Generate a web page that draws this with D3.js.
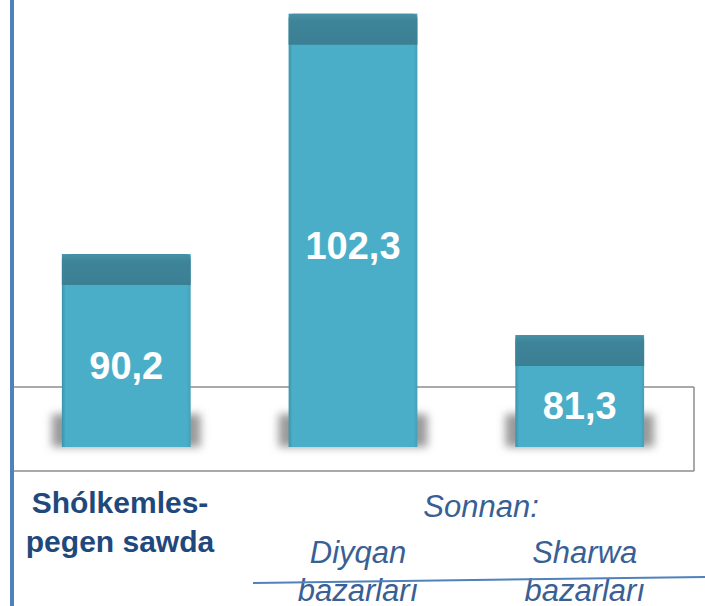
<!DOCTYPE html>
<html>
<head>
<meta charset="utf-8">
<script src="https://cdn.jsdelivr.net/npm/d3@7"></script>
<style>
  body { margin: 0; background: #fff; }
  svg { display: block; font-family: "Liberation Sans", Arial, sans-serif; }
</style>
</head>
<body>
<svg id="chart" width="705" height="606"></svg>
<script>
// chart data
const categories = ["Shólkemlespegen sawda", "Diyqan bazarları", "Sharwa bazarları"];
const values = [90.2, 102.3, 81.3];
const valueLabels = ["90,2", "102,3", "81,3"];
// value knots of the (non-uniform) vertical scale used by the original picture
const yKnots = [70, 90, 105];

const svg = d3.select("#chart");
const width = +svg.attr("width"),
  height = +svg.attr("height");

const FLOOR_LEFT = 12,
  FLOOR_RIGHT = 694,
  FLOOR_BACK = 387,
  FLOOR_FRONT = 471,
  BAR_BASE = 447,
  CAP_H = 31;

const x = d3
  .scaleBand()
  .domain(categories)
  .range([FLOOR_LEFT, FLOOR_RIGHT])
  .paddingInner(0.432)
  .paddingOuter(0.22);

const y = d3.scaleLinear().domain(yKnots).range([435, 258, -40]);

const defs = svg.append("defs");
defs
  .append("filter")
  .attr("id", "blur")
  .attr("filterUnits", "userSpaceOnUse")
  .attr("x", 0)
  .attr("y", 350)
  .attr("width", width)
  .attr("height", 140)
  .append("feGaussianBlur")
  .attr("stdDeviation", 4.5);

const capGrad = defs
  .append("linearGradient")
  .attr("id", "capGrad")
  .attr("x1", 0).attr("y1", 0).attr("x2", 0).attr("y2", 1);
capGrad.append("stop").attr("offset", "0%").attr("stop-color", "#4791a6");
capGrad.append("stop").attr("offset", "25%").attr("stop-color", "#3e8498");
capGrad.append("stop").attr("offset", "100%").attr("stop-color", "#3b7f93");

const faceGrad = defs
  .append("linearGradient")
  .attr("id", "faceGrad")
  .attr("x1", 0).attr("y1", 0).attr("x2", 1).attr("y2", 0);
faceGrad.append("stop").attr("offset", "0%").attr("stop-color", "#3a93aa");
faceGrad.append("stop").attr("offset", "3%").attr("stop-color", "#4aaec8");
faceGrad.append("stop").attr("offset", "97%").attr("stop-color", "#4aaec8");
faceGrad.append("stop").attr("offset", "100%").attr("stop-color", "#459fb7");

// floor box
const floor = svg.append("g").attr("fill", "none").attr("stroke", "#8c8c8c").attr("stroke-width", 1.5);
floor.append("line").attr("x1", FLOOR_LEFT).attr("x2", FLOOR_RIGHT).attr("y1", FLOOR_BACK).attr("y2", FLOOR_BACK);
floor.append("line").attr("x1", FLOOR_RIGHT).attr("x2", FLOOR_RIGHT).attr("y1", FLOOR_BACK).attr("y2", FLOOR_FRONT);
floor.append("line").attr("x1", FLOOR_LEFT).attr("x2", FLOOR_RIGHT).attr("y1", FLOOR_FRONT).attr("y2", FLOOR_FRONT);

const data = categories.map((c, i) => ({ cat: c, value: values[i], label: valueLabels[i] }));

const bar = svg
  .selectAll("g.bar")
  .data(data)
  .enter()
  .append("g")
  .attr("class", "bar");

// soft shadow behind the base
bar
  .append("rect")
  .attr("x", d => x(d.cat) - 10)
  .attr("y", BAR_BASE - 33)
  .attr("width", x.bandwidth() + 20)
  .attr("height", 33)
  .attr("fill", "#9a9a9a")
  .attr("filter", "url(#blur)");

// front face
bar
  .append("rect")
  .attr("x", d => x(d.cat))
  .attr("y", d => y(d.value))
  .attr("width", x.bandwidth())
  .attr("height", d => BAR_BASE - y(d.value))
  .attr("fill", "url(#faceGrad)");

// darker top cap
bar
  .append("path")
  .attr("d", d => {
    const x0 = x(d.cat), x1 = x0 + x.bandwidth(), t = y(d.value), r = 5;
    return `M${x0},${t + CAP_H}V${t + r}Q${x0},${t} ${x0 + r},${t}H${x1 - r}Q${x1},${t} ${x1},${t + r}V${t + CAP_H}Z`;
  })
  .attr("fill", "url(#capGrad)");

bar
  .append("text")
  .attr("x", d => x(d.cat) + x.bandwidth() / 2)
  .attr("y", d => (y(d.value) + CAP_H + BAR_BASE) / 2)
  .attr("dy", "0.34em")
  .attr("text-anchor", "middle")
  .attr("fill", "#fff")
  .attr("font-weight", "bold")
  .attr("font-size", 38)
  .text(d => d.label);

// left axis line
svg
  .append("line")
  .attr("x1", 12).attr("x2", 12)
  .attr("y1", 0).attr("y2", height)
  .attr("stroke", "#4f81bd")
  .attr("stroke-width", 4);

// category labels
const dark = "#1f497d", mid = "#3a5f94";
const first = svg
  .append("text")
  .attr("fill", dark)
  .attr("font-weight", "bold")
  .attr("font-size", 30)
  .attr("text-anchor", "middle");
first.append("tspan").attr("x", 120).attr("y", 513).text("Shólkemles-");
first.append("tspan").attr("x", 120).attr("y", 552).text("pegen sawda");

svg
  .append("text")
  .attr("x", 481)
  .attr("y", 517)
  .attr("text-anchor", "middle")
  .attr("font-style", "italic")
  .attr("font-size", 31)
  .attr("fill", mid)
  .text("Sonnan:");

const sub = svg
  .selectAll("text.sub")
  .data(data.slice(1))
  .enter()
  .append("text")
  .attr("class", "sub")
  .attr("text-anchor", "middle")
  .attr("font-style", "italic")
  .attr("font-size", 31)
  .attr("fill", mid);
sub.append("tspan")
  .attr("x", d => x(d.cat) + x.bandwidth() / 2 + 5)
  .attr("y", 563)
  .text(d => d.cat.split(" ")[0]);
sub.append("tspan")
  .attr("x", d => x(d.cat) + x.bandwidth() / 2 + 5)
  .attr("y", 601)
  .text(d => d.cat.split(" ")[1]);

svg
  .append("line")
  .attr("x1", 253).attr("y1", 583)
  .attr("x2", width).attr("y2", 577)
  .attr("stroke", "#4f81bd")
  .attr("stroke-width", 2);
</script>
</body>
</html>
